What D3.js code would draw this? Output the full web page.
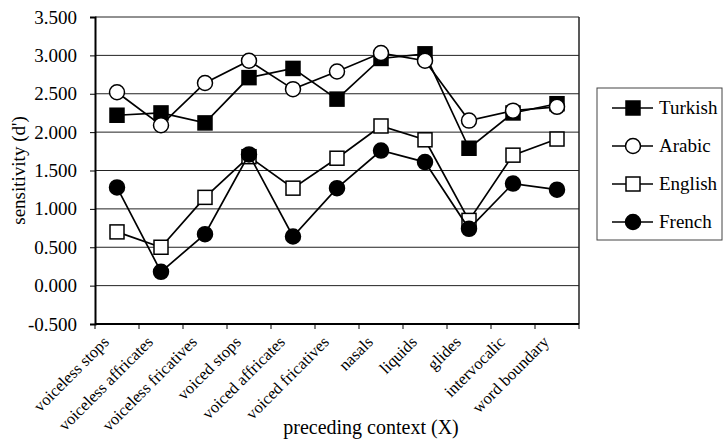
<!DOCTYPE html>
<html><head><meta charset="utf-8">
<script src="https://cdn.jsdelivr.net/npm/d3@7/dist/d3.min.js"></script>
<style>body{margin:0;background:#fff}svg{display:block}text{font-family:"Liberation Serif","Times New Roman",serif;fill:#000}</style>
</head><body><svg id="c" width="726" height="441"></svg>
<script>
const categories = ["voiceless stops","voiceless affricates","voiceless fricatives","voiced stops","voiced affricates","voiced fricatives","nasals","liquids","glides","intervocalic","word boundary"];
const turkish = [2.22,2.25,2.12,2.71,2.83,2.43,2.96,3.02,1.79,2.25,2.37];
const arabic  = [2.52,2.09,2.64,2.93,2.56,2.79,3.03,2.93,2.15,2.28,2.33];
const english = [0.70,0.50,1.15,1.68,1.27,1.66,2.08,1.90,0.85,1.70,1.91];
const french  = [1.28,0.18,0.67,1.71,0.64,1.27,1.76,1.61,0.74,1.33,1.25];
const yTicks = [-0.5,0,0.5,1,1.5,2,2.5,3,3.5];
const seriesNames = ["Turkish","Arabic","English","French"];
const series = [
  {name:seriesNames[0], values:turkish, shape:"square", fill:"#000"},
  {name:seriesNames[1], values:arabic, shape:"circle", fill:"#fff"},
  {name:seriesNames[2], values:english, shape:"square", fill:"#fff"},
  {name:seriesNames[3], values:french, shape:"circle", fill:"#000"}
];

const svg = d3.select("#c");
const L=95, R=579, T=17, B=324;
const x = d3.scaleBand().domain(categories).range([L,R]);
const y = d3.scaleLinear().domain([-0.5,3.5]).range([B,T]);
const fmt = d3.formatLocale({decimal:".",thousands:",",grouping:[3],currency:["",""],minus:"-"}).format(".3f");

// gridlines
svg.append("g").selectAll("line").data(yTicks).join("line")
  .attr("x1",L).attr("x2",R).attr("y1",d=>y(d)).attr("y2",d=>y(d))
  .attr("stroke","#222").attr("stroke-width",1);
// right border
svg.append("line").attr("x1",R).attr("x2",R).attr("y1",T).attr("y2",B).attr("stroke","#222").attr("stroke-width",1.5);

// y axis
const ya = svg.append("g").attr("transform",`translate(${L},0)`)
  .call(d3.axisLeft(y).tickValues(yTicks).tickFormat(fmt).tickSizeOuter(0).tickSize(5).tickPadding(13));
ya.select(".domain").attr("stroke","#000").attr("stroke-width",2);
ya.selectAll("text").style("font-size","19px").style("font-family","Liberation Serif");
ya.selectAll("line").attr("stroke","#000");

// x axis
const xa = svg.append("g").attr("transform",`translate(0,${B})`);
xa.append("line").attr("x1",L).attr("x2",R).attr("stroke","#000").attr("stroke-width",2);
const bounds = categories.map(c=>x(c)).concat([R]);
xa.selectAll("line.t").data(bounds).join("line").attr("class","t")
  .attr("x1",d=>d).attr("x2",d=>d).attr("y1",0).attr("y2",5).attr("stroke","#000");
xa.selectAll("text").data(categories).join("text")
  .attr("transform",d=>`translate(${x(d)+x.bandwidth()/2-7},${19}) rotate(-45)`)
  .attr("text-anchor","end").style("font-size","16.5px").text(d=>d);

// lines and markers
const line = d3.line().x((d,i)=>x(categories[i])+x.bandwidth()/2).y(d=>y(d));
function marker(g, shape, fill, cx, cy){
  if(shape==="square") g.append("rect").attr("x",cx-7).attr("y",cy-7).attr("width",14).attr("height",14).attr("fill",fill).attr("stroke","#000").attr("stroke-width",1.5);
  else g.append("circle").attr("cx",cx).attr("cy",cy).attr("r",7.5).attr("fill",fill).attr("stroke","#000").attr("stroke-width",1.5);
}
series.forEach(s=>{
  const g = svg.append("g");
  g.append("path").attr("d",line(s.values)).attr("fill","none").attr("stroke","#000").attr("stroke-width",1.7);
  s.values.forEach((v,i)=>marker(g,s.shape,s.fill,x(categories[i])+x.bandwidth()/2,y(v)));
});

// axis titles
svg.append("text").attr("transform",`translate(25,${(T+B)/2}) rotate(-90)`).attr("text-anchor","middle").style("font-size","19px").text("sensitivity (d')");
svg.append("text").attr("x",371).attr("y",434).attr("text-anchor","middle").style("font-size","20px").text("preceding context (X)");

// legend
const lg = svg.append("g");
lg.append("rect").attr("x",597).attr("y",88).attr("width",125).attr("height",152).attr("fill","#fff").attr("stroke","#444").attr("stroke-width",1);
series.forEach((s,i)=>{
  const cy = 108 + i*38;
  lg.append("line").attr("x1",612).attr("x2",653).attr("y1",cy).attr("y2",cy).attr("stroke","#000").attr("stroke-width",1.6);
  marker(lg,s.shape,s.fill,633,cy);
  lg.append("text").attr("x",659).attr("y",cy+6).style("font-size","19px").text(s.name);
});
</script></body></html>
